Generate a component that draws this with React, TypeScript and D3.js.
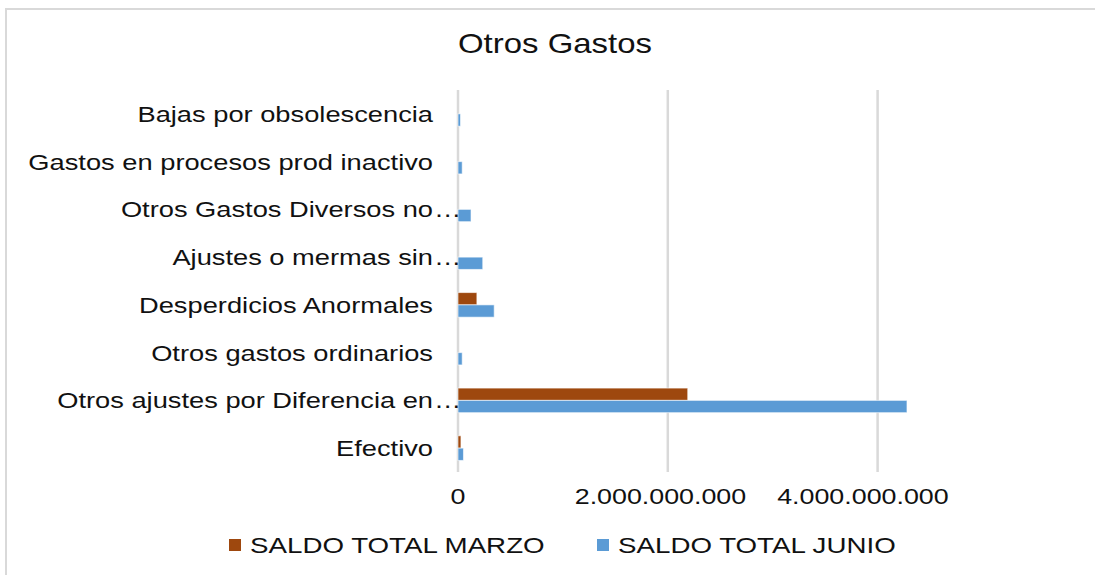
import React, { useEffect, useRef } from "react";
import * as d3 from "d3";

// categories, top to bottom as shown in the chart
const categories = [
  "Bajas por obsolescencia",
  "Gastos en procesos prod inactivo",
  "Otros Gastos Diversos no…",
  "Ajustes o mermas sin…",
  "Desperdicios Anormales",
  "Otros gastos ordinarios",
  "Otros ajustes por Diferencia en…",
  "Efectivo",
];

const saldoMarzo = [0, 0, 0, 0, 180000000, 0, 2190000000, 28000000];
const saldoJunio = [24000000, 40000000, 124000000, 236000000, 345000000, 40000000, 4280000000, 52000000];

const seriesNames = ["SALDO TOTAL MARZO", "SALDO TOTAL JUNIO"];
const seriesColors = ["#9E480E", "#5B9BD5"];

const xTicks = [0, 2000000000, 4000000000];

const W = 1095;
const H = 575;

const App = () => {
  const svgRef = useRef<SVGSVGElement>(null);

  useEffect(() => {
    const svg = d3.select(svgRef.current);
    svg.selectAll("*").remove();

    const font = "'Liberation Sans', Arial, sans-serif";

    // the original text is drawn horizontally stretched
    const stretchText = (sel, x, y, sx = 1.26) =>
      sel.attr("transform", `translate(${x},${y}) scale(${sx},1)`);

    svg.append("rect").attr("width", W).attr("height", H).attr("fill", "#fff");

    // chart area border (cropped on the right and bottom)
    svg
      .append("rect")
      .attr("x", 6)
      .attr("y", 9)
      .attr("width", W + 50)
      .attr("height", H + 50)
      .attr("fill", "none")
      .attr("stroke", "#D9D9D9")
      .attr("stroke-width", 2);

    // Scales
    const x = d3.scaleLinear().domain([0, 5000000000]).range([458, 982.5]);

    const y = d3
      .scaleBand()
      .domain(categories)
      .range([90, 472])
      .paddingInner(0.485)
      .paddingOuter(0.2425);

    const ySub = d3
      .scaleBand()
      .domain(seriesNames)
      .range([0, y.bandwidth()]);

    // Title
    stretchText(
      svg
        .append("text")
        .attr("text-anchor", "middle")
        .style("font-family", font)
        .style("font-size", "27px")
        .style("fill", "#111")
        .text("Otros Gastos"),
      555,
      53,
      1.22,
    );

    // Grid lines
    svg
      .append("g")
      .selectAll("line")
      .data(xTicks)
      .enter()
      .append("line")
      .attr("x1", (d) => x(d))
      .attr("x2", (d) => x(d))
      .attr("y1", 90)
      .attr("y2", 472)
      .attr("stroke", "#D9D9D9")
      .attr("stroke-width", 2.5);

    // Bars
    const series = [saldoMarzo, saldoJunio];
    series.forEach((values, si) => {
      svg
        .append("g")
        .selectAll("rect")
        .data(categories.map((c, i) => ({ c, v: values[i] })).filter((d) => d.v > 0))
        .enter()
        .append("rect")
        .attr("x", x(0))
        .attr("y", (d) => y(d.c) + ySub(seriesNames[si]))
        .attr("width", (d) => x(d.v) - x(0))
        .attr("height", ySub.bandwidth())
        .attr("fill", seriesColors[si])
        .attr("stroke", "#fff")
        .attr("stroke-opacity", 0.6)
        .attr("stroke-width", 1);
    });

    // Category labels
    const labels = svg.append("g");
    categories.forEach((c) => {
      const cy = y(c) + y.bandwidth() / 2;
      const truncated = c.endsWith("…");
      const main = truncated ? c.slice(0, -1) : c;
      stretchText(
        labels
          .append("text")
          .attr("text-anchor", "end")
          .attr("dy", "0.36em")
          .style("font-family", font)
          .style("font-size", "22px")
          .style("fill", "#111")
          .text(main),
        433,
        cy,
        1.24,
      );
      if (truncated) {
        stretchText(
          labels
            .append("text")
            .attr("text-anchor", "start")
            .attr("dy", "0.36em")
            .style("font-family", font)
            .style("font-size", "22px")
            .style("fill", "#111")
            .text("…"),
          434,
          cy,
          1.24,
        );
      }
    });

    // X tick labels
    const fmt = (v) => d3.format(",")(v).replace(/,/g, ".");
    xTicks.forEach((v) => {
      stretchText(
        svg
          .append("text")
          .attr("text-anchor", "middle")
          .style("font-family", font)
          .style("font-size", "22px")
          .style("fill", "#111")
          .text(fmt(v)),
        x(v) - (x(v) - x(0)) * 0.035,
        504,
        1.22,
      );
    });

    // Legend
    const legendX = [229, 597];
    seriesNames.forEach((name, i) => {
      svg
        .append("rect")
        .attr("x", legendX[i])
        .attr("y", 539)
        .attr("width", 12)
        .attr("height", 12)
        .attr("fill", seriesColors[i]);
      stretchText(
        svg
          .append("text")
          .style("font-family", font)
          .style("font-size", "22px")
          .style("fill", "#111")
          .text(name),
        legendX[i] + 21,
        553,
      );
    });
  }, []);

  return (
    <svg
      ref={svgRef}
      width={W}
      height={H}
      style={{ position: "absolute", left: 0, top: 0, display: "block" }}
    ></svg>
  );
};

export default App;
